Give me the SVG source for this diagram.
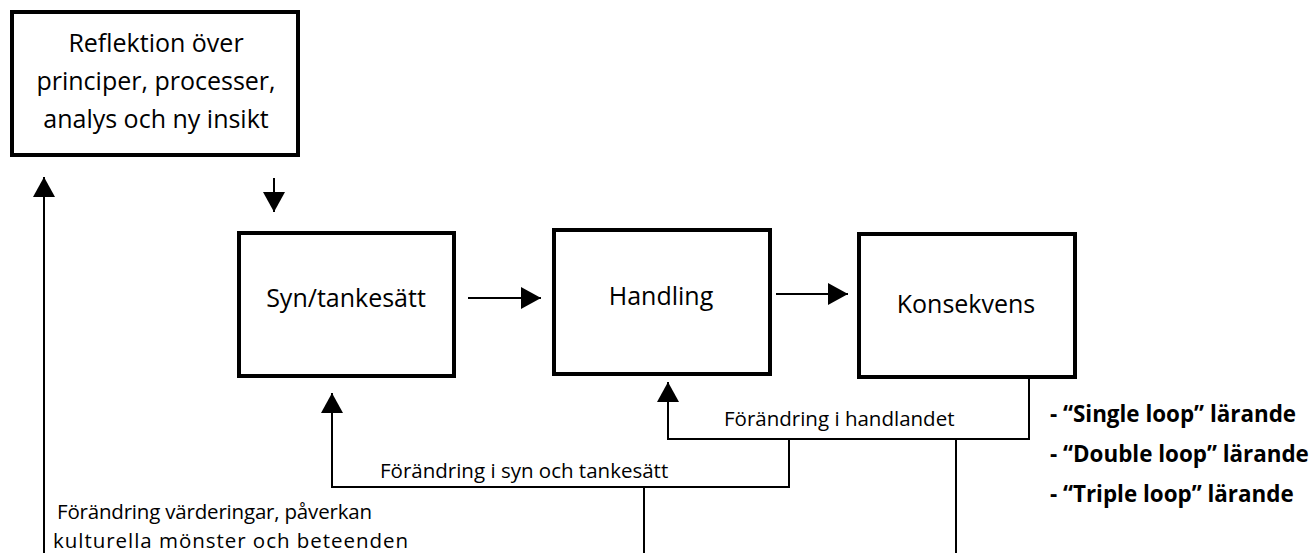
<svg xmlns="http://www.w3.org/2000/svg" width="1316" height="553" viewBox="0 0 1316 553">
<style>
.box{fill:#fff;stroke:#000;stroke-width:4}
.big{font-family:"Open Sans","Noto Sans",sans-serif;font-size:25px;fill:#000;text-anchor:middle}
.lbl{font-family:"Open Sans","Noto Sans",sans-serif;font-size:20.5px;fill:#000}
.bold{font-family:"Open Sans","Noto Sans",sans-serif;font-size:22.4px;font-weight:bold;fill:#000}
.ln{fill:none;stroke:#000;stroke-width:2}
</style>
<defs>
<marker id="ah" markerUnits="userSpaceOnUse" markerWidth="21" markerHeight="22" refX="20" refY="11" orient="auto" viewBox="0 0 21 22">
<path d="M0,0 L20,11 L0,22 z" fill="#000"/>
</marker>
</defs>
<rect width="1316" height="553" fill="#fff"/>
<g id="connectors">
<line class="ln" x1="468" y1="298" x2="541" y2="298" marker-end="url(#ah)"/>
<line class="ln" x1="776" y1="294" x2="848" y2="294" marker-end="url(#ah)"/>
<line class="ln" x1="274" y1="178" x2="274" y2="212" marker-end="url(#ah)"/>
<line class="ln" x1="44" y1="553" x2="44" y2="177" marker-end="url(#ah)"/>
<path class="ln" d="M1029,378 V439 H668 V382" marker-end="url(#ah)"/>
<path class="ln" d="M789,439 V487 H332 V393" marker-end="url(#ah)"/>
<path class="ln" d="M644,487 V553"/>
<path class="ln" d="M956,439 V553"/>
</g>
<g id="reflektion">
<rect class="box" x="12" y="12" width="286" height="143"/>
<text class="big" x="156" y="52">Reflektion över</text>
<text class="big" x="156" y="90">principer, processer,</text>
<text class="big" x="156" y="128">analys och ny insikt</text>
</g>
<g id="syn">
<rect class="box" x="239" y="233" width="215" height="143"/>
<text class="big" x="346" y="307">Syn/tankesätt</text>
</g>
<g id="handling">
<rect class="box" x="554" y="230" width="216" height="144"/>
<text class="big" x="661" y="305">Handling</text>
</g>
<g id="konsekvens">
<rect class="box" x="859" y="234" width="216" height="143"/>
<text class="big" x="966" y="313">Konsekvens</text>
</g>
<g id="labels">
<text class="lbl" x="724" y="426">Förändring i handlandet</text>
<text class="lbl" x="380" y="478">Förändring i syn och tankesätt</text>
<text class="lbl" x="57" y="519" textLength="315" lengthAdjust="spacing">Förändring värderingar, påverkan</text>
<text class="lbl" x="53" y="548" textLength="355" lengthAdjust="spacing">kulturella mönster och beteenden</text>
<text class="bold" x="1050" y="422">- “Single loop” lärande</text>
<text class="bold" x="1050" y="462">- “Double loop” lärande</text>
<text class="bold" x="1050" y="502">- “Triple loop” lärande</text>
</g>
</svg>
